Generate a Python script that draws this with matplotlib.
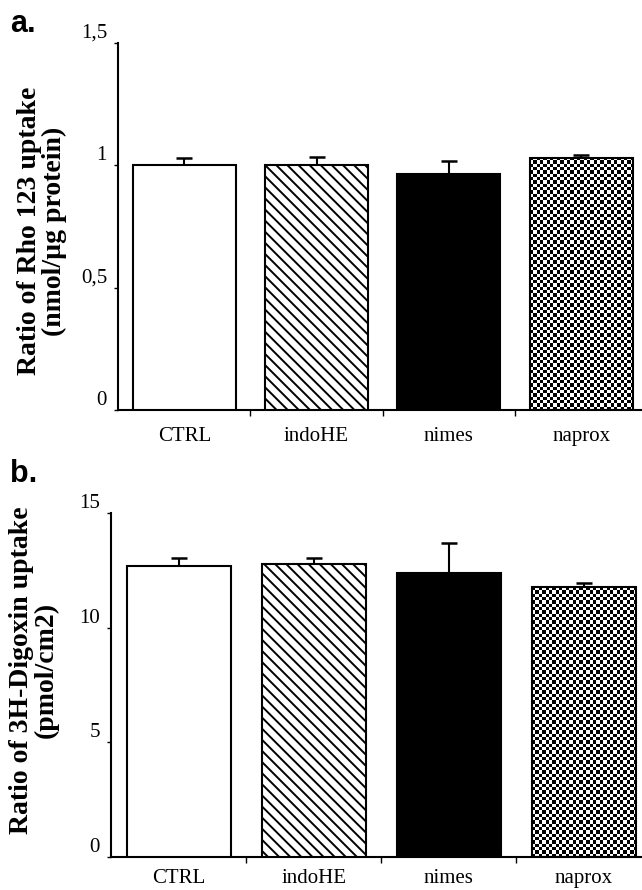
import numpy as np
import matplotlib
matplotlib.use('Agg')
import matplotlib.pyplot as plt
from matplotlib.ticker import FixedLocator

# data
groups = ['CTRL', 'indoHE', 'nimes', 'naprox']
rho = [1.0, 1.0, 0.963, 1.03]
rho_err = [0.03, 0.035, 0.055, 0.014]
dig = [12.68, 12.76, 12.40, 11.76]
dig_err = [0.35, 0.26, 1.28, 0.17]

plt.rcParams['font.family'] = ['Liberation Serif', 'DejaVu Serif']
plt.rcParams['hatch.linewidth'] = 1.4

fig = plt.figure(figsize=(6.42, 8.9), dpi=100)


def checker(ax, bar, cell_px=3.3):
    # checkerboard fill clipped to the bar
    fig.canvas.draw()
    bb = bar.get_window_extent()
    nx = max(int(bb.width / cell_px), 1)
    ny = max(int(bb.height / cell_px), 1)
    img = (np.indices((ny, nx)).sum(axis=0) % 2).astype(float)
    x0, y0 = bar.get_x(), bar.get_y()
    im = ax.imshow(img, cmap='gray', extent=(x0, x0 + bar.get_width(), y0, y0 + bar.get_height()),
                   interpolation='nearest', aspect='auto', zorder=2)
    im.set_clip_path(bar)


def panel(rect, vals, errs, ymax, yticks, ylabels, ylabel, xright, width, lab_y, letter, letter_y, xpad):
    ax = fig.add_axes(rect)
    x = np.arange(len(vals))
    fills = ['white', 'white', 'black', 'white']
    hatches = [None, '\\\\\\', None, None]
    bars = ax.bar(x, vals, width=width, color=fills, edgecolor='black', linewidth=1.5, zorder=3)
    for b, h in zip(bars, hatches):
        if h:
            b.set_hatch(h)
    ax.errorbar(x, vals, yerr=[np.zeros(len(vals)), errs], fmt='none', ecolor='black',
                elinewidth=1.5, capsize=5.5, capthick=1.8, zorder=2)
    ax.set_xlim(-0.5, xright)
    ax.set_ylim(0, ymax)
    # checkerboard for naprox, bar drawn on top for the outline
    bars[3].set_facecolor('none')
    checker(ax, bars[3])

    for s in ['top', 'right']:
        ax.spines[s].set_visible(False)
    for s in ['left', 'bottom']:
        ax.spines[s].set_linewidth(1.5)
    ax.set_yticks(yticks)
    ax.set_yticklabels(ylabels, fontsize=15)
    for t in ax.get_yticklabels():
        t.set_verticalalignment('bottom')
    ax.tick_params(axis='y', length=3, width=1, pad=5)
    ax.set_xticks(x)
    ax.set_xticklabels(groups, fontsize=15)
    ax.tick_params(axis='x', which='major', length=0, pad=xpad)
    ax.xaxis.set_minor_locator(FixedLocator(x[:-1] + 0.5))
    ax.tick_params(axis='x', which='minor', length=4, width=1)
    ax.set_ylabel(ylabel, fontsize=20, fontweight='bold', va='center', ma='center', linespacing=1.0)
    ax.yaxis.set_label_coords(-0.145, lab_y)
    fig.text(10 / 642, letter_y, letter, fontsize=22, fontweight='bold',
             family=['Liberation Sans', 'DejaVu Sans'], va='baseline')
    return ax


panel([0.184, 0.5393, 0.816, 0.4124], rho, rho_err, 1.5, [0, 0.5, 1, 1.5],
      ['0', '0,5', '1', '1,5'], 'Ratio of Rho 123 uptake\n(nmol/µg protein)',
      3.46, 0.78, 0.488, 'a.', 1 - 32 / 890, 12)
panel([0.173, 0.0371, 0.827, 0.3865], dig, dig_err, 15, [0, 5, 10, 15],
      ['0', '5', '10', '15'], 'Ratio of 3H-Digoxin uptake\n(pmol/cm2)',
      3.43, 0.77, 0.544, 'b.', 1 - 482 / 890, 9)

fig.savefig('out.png', dpi=100)
